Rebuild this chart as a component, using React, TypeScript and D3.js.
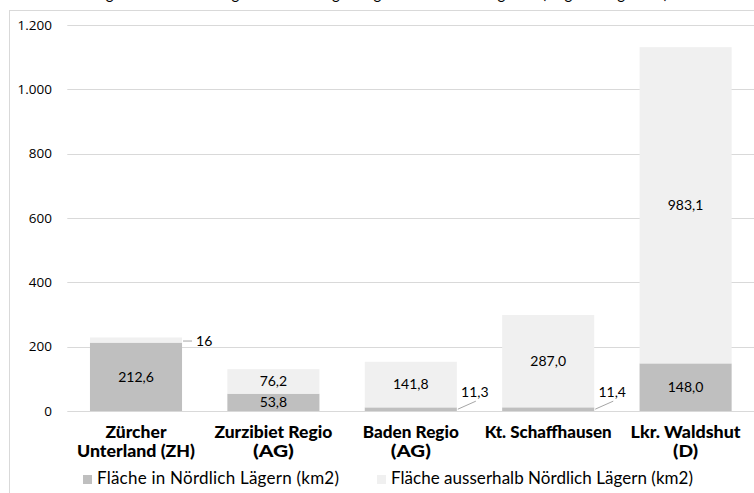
import React from "react";
import * as d3 from "d3";

// Regions and their area split (km2)
const regionLines: string[][] = [
  ["Zürcher", "Unterland (ZH)"],
  ["Zurzibiet Regio", "(AG)"],
  ["Baden Regio", "(AG)"],
  ["Kt. Schaffhausen"],
  ["Lkr. Waldshut", "(D)"],
];
const regionKeys = ["ZH", "Zurzibiet", "Baden", "SH", "Waldshut"];
const insideArea = [212.6, 53.8, 11.3, 11.4, 148.0];
const outsideArea = [16, 76.2, 141.8, 287.0, 983.1];
const insideLabels = ["212,6", "53,8", "11,3", "11,4", "148,0"];
const outsideLabels = ["16", "76,2", "141,8", "287,0", "983,1"];
const yTicks = [0, 200, 400, 600, 800, 1000, 1200];
const seriesNames = [
  "Fläche in Nördlich Lägern (km2)",
  "Fläche ausserhalb Nördlich Lägern (km2)",
];

// Rendered widths for the category label lines and legend entries (px)
const regionLineWidths: number[][] = [
  [61, 118],
  [118, 41],
  [96, 40],
  [127],
  [110, 25],
];
const legendWidths = [242, 302];

const W = 754;
const H = 493;
const DARK = "#bfbfbf";
const LIGHT = "#f0f0f0";
const GRID = "#d9d9d9";
const LABEL_FONT = "Lato, 'Open Sans', sans-serif";
const AXIS_FONT = "'Open Sans', 'Noto Sans', sans-serif";

const fmtTick = (v: number) => d3.format(",")(v).replace(/,/g, ".");

export default function App() {
  const x = d3
    .scaleBand<string>()
    .domain(regionKeys)
    .range([67.3, 754.3])
    .paddingInner(0.33)
    .paddingOuter(0.165);
  const y = d3.scaleLinear().domain([0, 1200]).range([411, 25]);

  const stacked = regionKeys.map((k, i) => ({
    key: k,
    inside: insideArea[i],
    outside: outsideArea[i],
  }));
  const series = d3.stack<any>().keys(["inside", "outside"])(stacked);

  const bw = x.bandwidth();

  // Small segments get their value written beside the bar with a leader line
  const outsideLabelAt = (i: number, seg: number, y0: number, y1: number) => {
    const x0 = (x(regionKeys[i]) as number) + bw;
    const cy = (y(y0) + y(y1)) / 2;
    if (seg === 1 && i === 0) {
      return {
        line: [x0 + 1, cy + 1, x0 + 10, cy + 1],
        tx: x0 + 14,
        ty: cy + 1,
        anchor: "start",
      };
    }
    return {
      line: [x0 + 1, cy, x0 + 19, cy - 8],
      tx: x0 + 18,
      ty: cy - 17,
      anchor: "middle",
    };
  };

  const isSmall = (i: number, seg: number) =>
    (seg === 1 && i === 0) || (seg === 0 && (i === 2 || i === 3));

  return (
    <div style={{ position: "absolute", left: 0, top: 0 }}>
      <svg width={W} height={H} style={{ display: "block", background: "#fff" }}>
        {/* title, mostly above the visible area */}
        <text
          x={W / 2 - 20}
          y={-1}
          textAnchor="middle"
          fontFamily={LABEL_FONT}
          fontSize={15}
          fill="#000"
        >
          Verteilung der Fläche der Regionen nach Zugehörigkeit zum Standortgebiet (Abgrenzung 2022)
        </text>

        {/* chart frame */}
        <rect x={9.5} y={10.5} width={W} height={H} fill="none" stroke={GRID} strokeWidth={1} />

        {/* gridlines and y axis labels */}
        {yTicks.map((t) => (
          <g key={t}>
            <line
              x1={67.3}
              x2={W}
              y1={Math.round(y(t)) + 0.5}
              y2={Math.round(y(t)) + 0.5}
              stroke={GRID}
              strokeWidth={1}
            />
            <text
              x={52}
              y={y(t)}
              dy="0.35em"
              textAnchor="end"
              fontFamily={AXIS_FONT}
              fontSize={13.5}
              fill="#000"
            >
              {fmtTick(t)}
            </text>
          </g>
        ))}

        {/* stacked bars */}
        {series.map((s, si) => (
          <g key={s.key} fill={si === 0 ? DARK : LIGHT}>
            {s.map((d, i) => (
              <rect
                key={i}
                x={x(regionKeys[i])}
                y={y(d[1])}
                width={bw}
                height={y(d[0]) - y(d[1])}
              />
            ))}
          </g>
        ))}

        {/* value labels */}
        {series.map((s, si) =>
          s.map((d, i) => {
            const label = si === 0 ? insideLabels[i] : outsideLabels[i];
            if (isSmall(i, si)) {
              const p = outsideLabelAt(i, si, d[0], d[1]);
              return (
                <g key={`${si}-${i}`}>
                  <line
                    x1={p.line[0]}
                    y1={p.line[1]}
                    x2={p.line[2]}
                    y2={p.line[3]}
                    stroke="#a6a6a6"
                    strokeWidth={1}
                  />
                  <text
                    x={p.tx}
                    y={p.ty}
                    dy="0.35em"
                    textAnchor={p.anchor as any}
                    fontFamily={LABEL_FONT}
                    fontSize={14}
                    fill="#000"
                  >
                    {label}
                  </text>
                </g>
              );
            }
            return (
              <text
                key={`${si}-${i}`}
                x={(x(regionKeys[i]) as number) + bw / 2}
                y={(y(d[0]) + y(d[1])) / 2}
                dy="0.35em"
                textAnchor="middle"
                fontFamily={LABEL_FONT}
                fontSize={14}
                fill="#000"
              >
                {label}
              </text>
            );
          })
        )}

        {/* category labels */}
        {regionKeys.map((k, i) =>
          regionLines[i].map((ln, li) => (
            <text
              key={`${k}-${li}`}
              x={(x(k) as number) + bw / 2}
              y={438 + li * 19}
              textAnchor="middle"
              fontFamily={LABEL_FONT}
              fontWeight={900}
              fontSize={16}
              fill="#000"
              textLength={regionLineWidths[i][li]}
              lengthAdjust="spacingAndGlyphs"
            >
              {ln}
            </text>
          ))
        )}

        {/* legend */}
        {seriesNames.map((name, i) => {
          const lx = i === 0 ? 83 : 377;
          return (
            <g key={name}>
              <rect x={lx} y={475} width={9} height={9} fill={i === 0 ? DARK : LIGHT} />
              <text
                x={lx + 14}
                y={484}
                fontFamily={LABEL_FONT}
                fontSize={17}
                fill="#000"
                textLength={legendWidths[i]}
                lengthAdjust="spacing"
              >
                {name}
              </text>
            </g>
          );
        })}
      </svg>
    </div>
  );
}
